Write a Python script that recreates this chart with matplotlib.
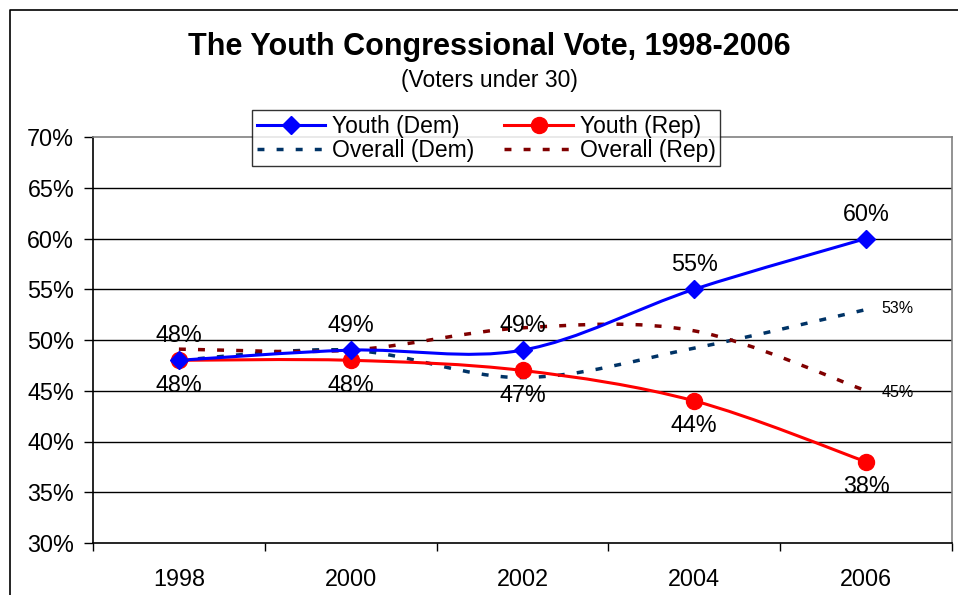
import matplotlib
matplotlib.use("Agg")
import matplotlib.pyplot as plt
import numpy as np
from matplotlib.path import Path
from matplotlib.patches import PathPatch
from matplotlib.lines import Line2D

plt.rcParams['font.family'] = ['Liberation Sans', 'DejaVu Sans']

years = ['1998', '2000', '2002', '2004', '2006']
youth_dem = [48, 49, 49, 55, 60]
youth_rep = [48, 48, 47, 44, 38]
overall_dem = [48, 49, 46.3, 49.2, 53]
overall_rep = [49.1, 49, 51.2, 50.9, 45]
y_ticks = [30, 35, 40, 45, 50, 55, 60, 65, 70]

BLUE = '#0000ff'
RED = '#ff0000'
NAVY = '#003366'
MAROON = '#800000'
FS = 16.8


def smooth_path(xs, ys):
    # Excel-style smoothed line: cubic bezier segments with catmull-rom handles
    pts = np.column_stack([xs, ys]).astype(float)
    n = len(pts)
    verts = [pts[0]]
    codes = [Path.MOVETO]
    for i in range(n - 1):
        p0 = pts[i - 1] if i > 0 else pts[i]
        p1, p2 = pts[i], pts[i + 1]
        p3 = pts[i + 2] if i + 2 < n else pts[i + 1]
        c1 = p1 + (p2 - p0) / 6
        c2 = p2 - (p3 - p1) / 6
        verts += [c1, c2, p2]
        codes += [Path.CURVE4] * 3
    return Path(verts, codes)


fig = plt.figure(figsize=(9.58, 5.95), dpi=100)
W, H = 958, 595
ax = fig.add_axes([93 / W, (H - 543) / H, 859 / W, 406 / H])

# outer chart frame
fig.add_artist(Line2D([9.5 / W, 9.5 / W, 1.0], [0, 1 - 9.5 / H, 1 - 9.5 / H],
                      transform=fig.transFigure, color='black', lw=1.2))

x = np.arange(len(years))
ax.set_xlim(-0.5, len(years) - 0.5)
ax.set_ylim(30, 70)

for yv in y_ticks[1:-1]:
    ax.axhline(yv, color='black', lw=1.0, zorder=1)

series = [
    (overall_dem, NAVY, (0, (2, 3.5)), 2.5),
    (overall_rep, MAROON, (0, (2, 3.5)), 2.5),
    (youth_rep, RED, '-', 2.2),
    (youth_dem, BLUE, '-', 2.2),
]
for vals, col, ls, lw in series:
    ax.add_patch(PathPatch(smooth_path(x, vals), fill=False, edgecolor=col,
                           lw=lw, linestyle=ls, zorder=3, capstyle='butt'))

ax.plot(x, youth_rep, 'o', color=RED, ms=11.5, zorder=4)
ax.plot(x, youth_dem, 'D', color=BLUE, ms=9, zorder=5)

for xi, v in zip(x, youth_dem):
    ax.annotate(f'{v}%', (xi, v), xytext=(0, 17.5), textcoords='offset points',
                ha='center', va='center', fontsize=FS)
for xi, v in zip(x, youth_rep):
    ax.annotate(f'{v}%', (xi, v), xytext=(0, -18), textcoords='offset points',
                ha='center', va='center', fontsize=FS)
ax.annotate(f'{overall_dem[-1]:.0f}%', (x[-1], overall_dem[-1]), xytext=(11, 1),
            textcoords='offset points', ha='left', va='center', fontsize=11.5)
ax.annotate(f'{overall_rep[-1]:.0f}%', (x[-1], overall_rep[-1]), xytext=(11, -1),
            textcoords='offset points', ha='left', va='center', fontsize=11.5)

ax.set_yticks(y_ticks)
ax.set_yticklabels([f'{v}%' for v in y_ticks], fontsize=FS)
ax.set_xticks(x)
ax.set_xticklabels(years, fontsize=FS)
ax.set_xticks(np.arange(-0.5, len(years)), minor=True)
ax.tick_params(axis='x', which='major', length=0, pad=18)
ax.tick_params(axis='x', which='minor', length=6, direction='out', width=1)
ax.tick_params(axis='y', length=6.5, direction='out', width=1, pad=7)

for s in ['top', 'right']:
    ax.spines[s].set_color('#808080')
for s in ['left', 'bottom']:
    ax.spines[s].set_color('black')
for s in ax.spines.values():
    s.set_linewidth(1.2)

handles = [
    Line2D([], [], color=BLUE, lw=2.2, marker='D', ms=9),
    Line2D([], [], color=NAVY, lw=2.5, linestyle=(0, (2, 3.5))),
    Line2D([], [], color=RED, lw=2.2, marker='o', ms=11.5),
    Line2D([], [], color=MAROON, lw=2.5, linestyle=(0, (2, 3.5))),
]
labels = ['Youth (Dem)', 'Overall (Dem)', 'Youth (Rep)', 'Overall (Rep)']
leg = fig.legend(handles, labels, ncol=2, loc='upper left',
                 bbox_to_anchor=(252 / W, 1 - 110 / H), fontsize=16.5,
                 frameon=True, fancybox=False, edgecolor='black',
                 borderpad=0.2, labelspacing=0.05, handlelength=3.0,
                 handletextpad=0.3, columnspacing=1.3, borderaxespad=0)
leg.get_frame().set_linewidth(1.0)

fig.text(489 / W, 1 - 47 / H, 'The Youth Congressional Vote, 1998-2006',
         ha='center', va='center', fontsize=22, fontweight='bold')
fig.text(489 / W, 1 - 81 / H, '(Voters under 30)', ha='center', va='center',
         fontsize=16.5)

fig.savefig('out.png', dpi=100)
